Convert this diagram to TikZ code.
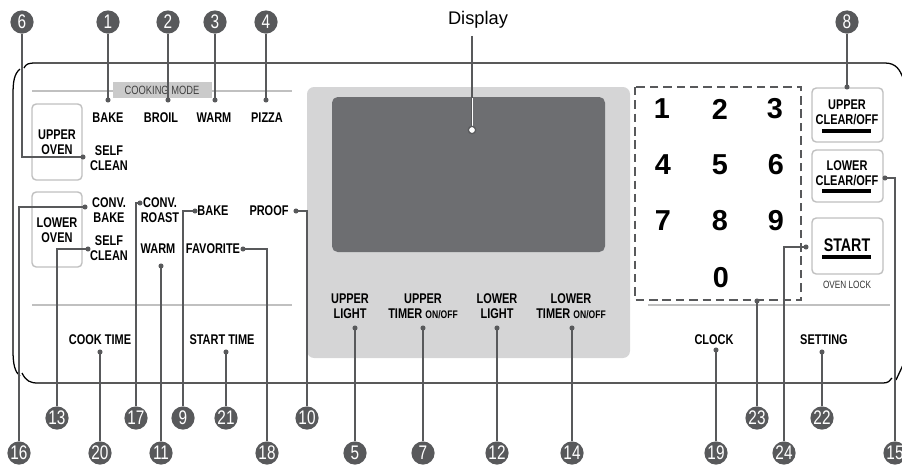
\documentclass[tikz,border=0pt]{standalone}
\usepackage{fontspec}
\setmainfont{Liberation Sans}
\newfontfamily\condfont[FakeStretch=0.78]{Liberation Sans}
\definecolor{leadgray}{RGB}{88,89,91}
\definecolor{rulegray}{RGB}{192,192,192}
\definecolor{modegray}{RGB}{202,202,202}
\definecolor{bezelgray}{RGB}{213,213,214}
\definecolor{screengray}{RGB}{109,110,113}
\newcommand{\smallonoff}{{\fontsize{7.8}{8}\selectfont ON/OFF}}
\tikzset{
 callout/.style={circle,fill=leadgray,text=white,inner sep=0pt,minimum size=0.58cm,font=\condfont\fontsize{14}{14}\selectfont},
 leader/.style={draw=leadgray,line width=1.35pt},
 keylbl/.style={align=center,inner sep=0pt,font=\condfont\bfseries\fontsize{10}{10.8}\selectfont},
 btnbox/.style={draw=rulegray,line width=1pt,fill=white,rounded corners=3pt},
 digit/.style={inner sep=0pt,font=\bfseries\fontsize{20.5}{20}\selectfont},
 bar/.style={line width=2.2pt}
}
\begin{document}
\begin{tikzpicture}[x=0.025cm,y=-0.025cm]
 \useasboundingbox (0,0) rectangle (902,468);
 \draw[line width=0.9pt] (24,68) .. controls (26,64) and (28,63) .. (36,63) -- (885,63) .. controls (896,63) and (900,70) .. (903,78);
 \draw[line width=0.9pt] (20,69) .. controls (14,74) and (13,82) .. (13,95) -- (13,350) .. controls (13,365) and (15,372) .. (20,376);
 \draw[line width=0.9pt] (22,373) .. controls (26,381) and (30,383) .. (38,383) -- (883,383) .. controls (888,383) and (890,381) .. (892,378);
 \draw[line width=0.9pt] (896,380) -- (903,365);
 \draw[rulegray,line width=1pt] (32,91) -- (292,91) (32,305) -- (292,305) (648,305) -- (890,305);
 \fill[modegray] (113,82) rectangle (212,98);
 \node[inner sep=0pt,text=black!75,font=\condfont\fontsize{8.5}{9}\selectfont] (cmode) at (162,90) {COOKING MODE};
 \fill[bezelgray,rounded corners=5pt] (307,87) rectangle (630,358);
 \fill[screengray,rounded corners=4pt] (332,97) rectangle (605,252);
 \draw[btnbox] (32,104) rectangle (82,180);
 \draw[btnbox] (32,192) rectangle (82,267);
 \draw[btnbox] (812,88) rectangle (883,142);
 \draw[btnbox] (812,150) rectangle (883,202);
 \draw[btnbox] (812,218) rectangle (883,274);
 \foreach \nm/\x/\y/\txt in {bake/108/118/BAKE,broil/161/118/BROIL,warm/214/118/WARM,pizza/267/118/PIZZA,
   uoven/57/142/{UPPER\\OVEN},uself/109/158/{SELF\\CLEAN},loven/57/230/{LOWER\\OVEN},cbake/109/210/{CONV.\\BAKE},
   lself/109/248/{SELF\\CLEAN},croast/160/210/{CONV.\\ROAST},lbake/213/211/BAKE,proof/269/211/PROOF,
   lwarm/158/249/WARM,fav/213/249/FAVORITE,cook/100/340/COOK TIME,start/222/340/START TIME,
   ulight/350/306/{UPPER\\LIGHT},utimer/423/306/{UPPER\\TIMER \smallonoff},llight/497/306/{LOWER\\LIGHT},
   ltimer/571/306/{LOWER\\TIMER \smallonoff},clock/714/340/CLOCK,setting/824/340/SETTING,
   uclear/847/112/{UPPER\\CLEAR/OFF},lclear/847/173/{LOWER\\CLEAR/OFF}}
  \node[keylbl] (\nm) at (\x,\y) {\txt};
 \node[keylbl,font=\condfont\bfseries\fontsize{13}{13}\selectfont] (go) at (847,245) {START};
 \node[inner sep=0pt,text=black!80,font=\condfont\fontsize{7.5}{8}\selectfont] (lock) at (847,285) {OVEN LOCK};
 \draw[bar] (822,131) -- (871,131) (822,191) -- (871,191) (822,257) -- (871,257);
 \draw[leadgray,line width=1.4pt,dash pattern=on 6pt off 3.5pt] (635,87) rectangle (801,300);
 \foreach \d/\x/\y in {1/662/109,2/720/109,3/775/109,4/663/165,5/720/165,6/776/165,7/663/221,8/720/221,9/776/221,0/721/278}
  \node[digit] (k\d) at (\x,\y) {\d};
 \node[inner sep=0pt,font=\fontsize{13}{13}\selectfont] (disp) at (478,20) {Display};
 \coordinate (scr) at (472,130);
 \draw[leadgray,line width=1.4pt,shorten <=5pt] (disp.south -| scr) -- (scr);
 \draw[white,line width=0.5pt] (472,98) -- (scr);
 \draw[leadgray,fill=white,line width=0.9pt] (scr) circle (2.6pt);
 \foreach \n/\x/\y in {6/22/22,1/108/22,2/168/22,3/215/22,4/266/22,8/847/22,
   13/57/418,17/136/418,9/183/418,21/226/418,10/307/418,23/757/418,22/822/418,
   16/19/453,20/100/453,11/161/453,18/267/453,5/355/453,7/423/453,12/497/453,14/572/453,19/716/453,24/784/453,15/895/453}
  \node[callout] (n\n) at (\x,\y) {\n};
 \foreach \n/\x/\y in {6/83/157,1/108/100,2/168/100,3/215/100,4/266/100,8/847/87,
   13/88/249,17/140/203,9/195/211,21/226/352,10/296/211,23/757/301,22/822/352,
   16/85/207,20/100/352,11/161/266,18/243/249,5/355/328,7/423/328,12/497/328,14/572/328,19/716/350,24/806/247,15/885/178}
  {\coordinate (p\n) at (\x,\y); \fill[leadgray] (p\n) circle (1.8pt);}
 \foreach \n in {1,2,3,4,8,21,23,22,20,11,5,7,12,14,19}
  \draw[leader] (n\n) -- (p\n);
 \foreach \n in {6,13,17,9,10,16,18,24,15}
  \draw[leader] (n\n) |- (p\n);
\end{tikzpicture}
\end{document}
